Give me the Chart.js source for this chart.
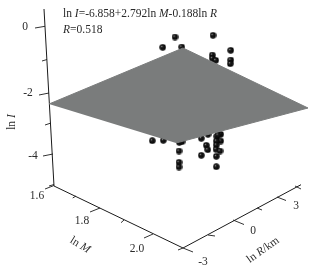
<!DOCTYPE html>
<html>
<head>
<meta charset="utf-8">
<style>
html,body{margin:0;padding:0;background:#fff;}
canvas{display:block;}
</style>
<script src="https://cdn.jsdelivr.net/npm/chart.js@4"></script>
</head>
<body>
<canvas id="chart" width="331" height="274"></canvas>
<script>
// =========================
// DATA (read off the projected 3D view)
// =========================

const ballX = [162.7,175,213,230.7,212.3,212.3,215.7,230.7,230.3,181.7,
    152.3,163.3,179.3,182,179,179,179,201.3,208,206.3,207.7,201.3,216.3,216.3,
    216.7,220.7,220.7,216.3,216.3,216,220,218];
const ballY = [47.3,37,35.3,50.3,55,58.3,60.3,60,63.7,47,
    140.7,140.3,142.3,141.7,151,162.3,167,138.3,134.3,145.3,149.7,155.3,156.3,166.7,
    136.3,134.3,141,141,145,149.3,151,135];

const planeX = [49,183,308,176];
const planeY = [104,48,108,143];

const axisX = [44,54,null,54,183,null,183,301];
const axisY = [9,186,null,186,248,null,248,184.7];

const tickX = [35,45,null,42,47,null,39,49,null,45,51,null,43,53,null,49,54,null,
    45,54,null,72.7,76,null,90,100,null,121,124,null,144,153,null,178,183,null,
    183,193,null,208,215,null,233,244,null,257,262,null,277,286,null,295,301];
const tickY = [28,26.3,null,61,59.5,null,95,93,null,125,123,null,156,154,null,186,184.5,null,
    189,185.5,null,198,196,null,212,208,null,222.7,220,null,238,234,null,250,248,null,
    248,252,null,235,236,null,220,224.5,null,208,210,null,197,200.5,null,186,189];

const tickLabels = ['0','-2','-4','1.6','1.8','2.0','-3','0','3'];
const tickLabelX = [25,28,33,37,82,137,203,253,296];
const tickLabelY = [27,93,156,196,221,249,262,231,206];

function toPoints(xs, ys){
    return xs.map((x,i)=> x === null ? {x:NaN,y:NaN} : {x:x,y:ys[i]});
}

// =========================
// BALL SPRITE
// =========================

const ball = document.createElement('canvas');
ball.width = 7;
ball.height = 7;
const bctx = ball.getContext('2d');
const grad = bctx.createRadialGradient(2.6,2.6,0,3.5,3.5,3.5);
grad.addColorStop(0,'#c8c8c8');
grad.addColorStop(0.25,'#1c1c1c');
grad.addColorStop(1,'#000');
bctx.fillStyle = grad;
bctx.beginPath();
bctx.arc(3.5,3.5,3.2,0,Math.PI*2);
bctx.fill();

// =========================
// TEXT PLUGIN
// =========================

function drawRuns(ctx, runs, x, y){
    runs.forEach(run=>{
        ctx.font = (run[1] ? 'italic ' : '') + '11.5px "Liberation Serif"';
        ctx.fillText(run[0], x, y);
        x += ctx.measureText(run[0]).width;
    });
}

function drawRotated(ctx, runs, x, y, angle){
    ctx.save();
    ctx.translate(x,y);
    ctx.rotate(angle);
    let w = 0;
    runs.forEach(run=>{
        ctx.font = (run[1] ? 'italic ' : '') + '11.5px "Liberation Serif"';
        w += ctx.measureText(run[0]).width;
    });
    drawRuns(ctx, runs, -w/2, 0);
    ctx.restore();
}

const textPlugin = {
    id:'textPlugin',
    afterDatasetsDraw(chart){
        const ctx = chart.ctx;
        const sx = chart.scales.x;
        const sy = chart.scales.y;
        ctx.save();
        ctx.fillStyle = '#2a2a2a';
        ctx.textBaseline = 'middle';
        ctx.textAlign = 'center';
        ctx.font = '11.5px "Liberation Serif"';
        tickLabels.forEach((t,i)=>{
            ctx.fillText(t, sx.getPixelForValue(tickLabelX[i]), sy.getPixelForValue(tickLabelY[i]));
        });
        ctx.textAlign = 'left';
        drawRuns(ctx, [['ln ',0],['I',1],['=-6.858+2.792ln ',0],['M',1],['-0.188ln ',0],['R',1]], 63, 14);
        drawRuns(ctx, [['R',1],['=0.518',0]], 63, 30);
        drawRotated(ctx, [['ln ',0],['I',1]], 12, 122, -Math.PI/2);
        drawRotated(ctx, [['ln ',0],['M',1]], 80, 245, 0.55);
        drawRotated(ctx, [['ln ',0],['R',1],['/km',0]], 263, 250, -0.62);
        ctx.restore();
    }
};

// =========================
// CHART
// =========================

new Chart(document.getElementById('chart'),{
    type:'scatter',
    data:{
        datasets:[
            {
                label:'plane',
                data:toPoints(planeX,planeY),
                showLine:true,
                fill:'shape',
                backgroundColor:'#7a7c7c',
                borderColor:'#7a7c7c',
                borderWidth:1,
                pointRadius:0,
                order:1
            },
            {
                label:'balls',
                data:toPoints(ballX,ballY),
                pointStyle:ball,
                order:2
            },
            {
                label:'axes',
                data:toPoints(axisX,axisY),
                showLine:true,
                borderColor:'#1a1a1a',
                borderWidth:1,
                pointRadius:0,
                order:3
            },
            {
                label:'ticks',
                data:toPoints(tickX,tickY),
                showLine:true,
                borderColor:'#333',
                borderWidth:1,
                pointRadius:0,
                order:3
            }
        ]
    },
    options:{
        responsive:false,
        animation:false,
        layout:{padding:0,autoPadding:false},
        plugins:{legend:{display:false},tooltip:{enabled:false}},
        scales:{
            x:{type:'linear',min:0,max:331,display:false},
            y:{type:'linear',min:0,max:274,reverse:true,display:false}
        }
    },
    plugins:[textPlugin]
});
</script>
</body>
</html>
